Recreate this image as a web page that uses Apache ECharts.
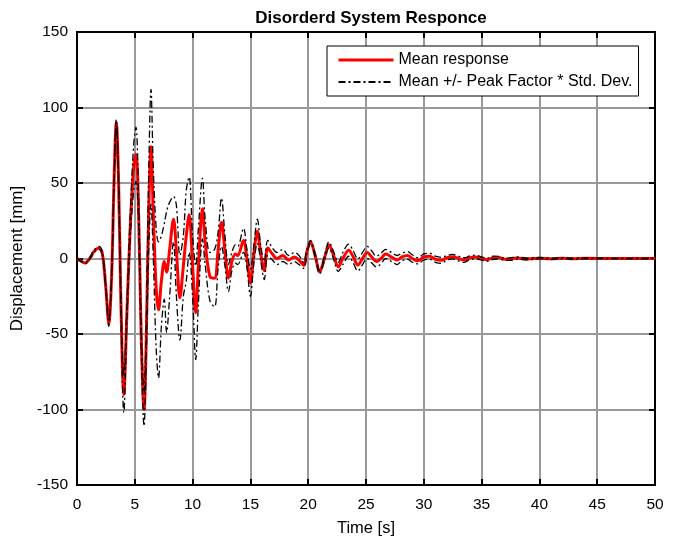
<!DOCTYPE html>
<html>
<head>
<meta charset="utf-8">
<script src="https://cdn.jsdelivr.net/npm/echarts@6/dist/echarts.min.js"></script>
<style>html,body{margin:0;padding:0;background:#fff}#main{width:678px;height:544px}</style>
</head>
<body>
<div id="main"></div>
<script>
// time samples [s]
var timeS = [0, 0.3, 0.7, 1.1, 1.5, 1.9, 2.2, 2.5, 2.75, 3.0,
    3.2, 3.4, 3.6, 3.8, 4.05, 4.3, 4.6, 4.9, 5.1, 5.3,
    5.55, 5.8, 6.0, 6.2, 6.4, 6.6, 6.85, 7.05, 7.3, 7.55,
    7.75, 8.0, 8.35, 8.6, 8.9, 9.2, 9.45, 9.7, 10.0, 10.27,
    10.5, 10.85, 11.1, 11.5, 11.9, 12.2, 12.5, 12.8, 13.1, 13.4,
    13.7, 13.9, 14.4, 14.7, 15.0, 15.3, 15.6, 15.9, 16.2, 16.5,
    16.9, 17.3, 17.8, 18.3, 18.8, 19.2, 19.6, 19.9, 20.2, 20.6,
    21.0, 21.4, 21.8, 22.2, 22.6, 23.0, 23.5, 23.9, 24.3, 24.7,
    25.1, 25.5, 25.9, 26.3, 26.7, 27.2, 27.7, 28.1, 28.6, 29.0,
    29.5, 30.0, 30.5, 31.0, 31.5, 32.0, 32.5, 33.0, 33.5, 34,
    34.5, 35, 35.5, 36, 36.5, 37, 37.5, 38, 39, 40,
    41, 42, 43, 44, 46, 48, 50];

// mean response [mm]
var meanMm = [0, -1.5, -3, 0, 5, 7, 3, -20, -43, -10,
    50, 90, 50, -30, -90, -40, 20, 60, 69, 40,
    -50, -100, -50, 30, 74, 30, -20, -34, -15, -2,
    -9, 5, 26, 5, -26, -5, 15, 29, -5, -36,
    -5, 33, 10, -12, -13, 5, 24, 5, -13, -2,
    3, 2, 12, 0, -16, 3, 18, 3, -8, 7,
    3, 0, 2, -1, 1, -1, -4.5, 5, 11, 2,
    -9, 0, 9, 2, -5.5, 0, 5.5, 1, -4.3, 0,
    4, 1, -2, 0, 3, 1, -1, 1, 2, 0,
    -1.5, 1, 1.5, -0.5, -1.2, 0.5, 1.2, 0, -1, 0.5,
    1, 0, -0.8, 0.5, 0.6, -0.5, -0.4, 0.3, -0.3, 0.2,
    -0.2, 0.2, -0.1, 0.1, 0, 0, 0];

// mean + peak factor * std [mm]
var upperMm = [0, -1.2, -2.5, 0.5, 5.8, 8, 4, -18.5, -41, -9,
    51.5, 92, 53, -24, -78, -34, 28, 75, 87, 50,
    -42, -89, -38, 55, 112, 60, 20, 11, 15, 23,
    31, 37, 41, 35, 2, 15, 45, 54, 15, -5,
    20, 53, 25, 4, 6, 17, 40, 15, -4, 4,
    9, 8, 20, 6, -7, 9, 26, 8, -2, 12,
    7, 4, 6, 2, 4, 2, -2.5, 6.5, 12, 3,
    -8, 1.5, 11, 4.5, -2.5, 4, 9.5, 5, -0.3, 4,
    8, 5, 1.5, 3.5, 6, 4, 2, 3.5, 4.5, 2.5,
    0.5, 3, 3.5, 1.5, 0.8, 2, 2.7, 1.5, 0.5, 1.7,
    2.2, 1, 0.2, 1.5, 1.4, 0.3, 0.4, 1, 0.3, 0.7,
    0.3, 0.6, 0.3, 0.4, 0.3, 0.2, 0.2];

// mean - peak factor * std [mm]
var lowerMm = [0, -1.8, -3.5, -0.5, 4.2, 6, 2, -21.5, -45, -11,
    48.5, 88, 47, -36, -102, -46, 12, 45, 51, 30,
    -58, -111, -62, 5, 36, 0, -60, -79, -45, -27,
    -49, -27, 11, -25, -54, -25, -15, 4, -25, -67,
    -30, 13, -5, -28, -32, -7, 8, -5, -22, -8,
    -3, -4, 4, -6, -25, -3, 10, -2, -14, 2,
    -1, -4, -2, -4, -2, -4, -6.5, 3.5, 10, 1,
    -10, -1.5, 7, -0.5, -8.5, -4, 1.5, -3, -8.3, -4,
    0, -3, -5.5, -3.5, 0, -2, -4, -1.5, -0.5, -2.5,
    -3.5, -1, -0.5, -2.5, -3.2, -1, -0.3, -1.5, -2.5, -0.7,
    -0.2, -1, -1.8, -0.5, -0.2, -1.3, -1.2, -0.4, -0.9, -0.3,
    -0.7, -0.2, -0.5, -0.2, -0.3, -0.2, -0.2];

function pairs(ys) {
    return timeS.map(function (t, i) { return [t, ys[i]]; });
}

var FONT = 'Liberation Sans';
var myChart = echarts.init(document.getElementById('main'));

var boundName = 'Mean +/- Peak Factor * Std. Dev.';
var boundStyle = { color: '#000', width: 1.3, type: [7, 3, 2, 3] };
var axisLineStyle = { show: true, onZero: false, lineStyle: { color: '#000', width: 2 } };
var tickStyle = { show: true, inside: true, length: 6, lineStyle: { color: '#000', width: 2 } };

myChart.setOption({
    animation: false,
    title: {
        text: 'Disorderd System Responce',
        left: 366,
        textAlign: 'center',
        top: 5,
        textStyle: { fontFamily: FONT, fontSize: 17, fontWeight: 'bold', color: '#000' }
    },
    legend: {
        orient: 'vertical',
        left: 327,
        top: 46,
        padding: [6, 6, 6, 10],
        itemGap: 6,
        itemWidth: 55,
        itemHeight: 14,
        backgroundColor: '#fff',
        borderColor: '#000',
        borderWidth: 1,
        itemStyle: { opacity: 0 },
        textStyle: { fontFamily: FONT, fontSize: 16, color: '#000' },
        data: [
            { name: 'Mean response', lineStyle: { width: 3 } },
            { name: boundName }
        ]
    },
    grid: {
        left: 77,
        right: 23,
        top: 32,
        bottom: 59,
        show: true,
        borderColor: '#000',
        borderWidth: 2
    },
    xAxis: [{
        type: 'value',
        min: 0,
        max: 50,
        interval: 5,
        name: 'Time [s]',
        nameLocation: 'middle',
        nameGap: 35,
        nameTextStyle: { fontFamily: FONT, fontSize: 16.5, color: '#000' },
        axisLine: axisLineStyle,
        axisTick: tickStyle,
        axisLabel: { fontFamily: FONT, fontSize: 15.5, color: '#000', margin: 12 },
        splitLine: { show: true, lineStyle: { color: '#999', width: 2 } }
    }, {
        type: 'value',
        position: 'top',
        min: 0,
        max: 50,
        interval: 5,
        axisLine: axisLineStyle,
        axisTick: tickStyle,
        axisLabel: { show: false },
        splitLine: { show: false }
    }],
    yAxis: [{
        type: 'value',
        min: -150,
        max: 150,
        interval: 50,
        name: 'Displacement [mm]',
        nameLocation: 'middle',
        nameGap: 47,
        nameTextStyle: { fontFamily: FONT, fontSize: 17, color: '#000' },
        axisLine: axisLineStyle,
        axisTick: tickStyle,
        axisLabel: { fontFamily: FONT, fontSize: 15.5, color: '#000', margin: 9 },
        splitLine: { show: true, lineStyle: { color: '#999', width: 2 } }
    }, {
        type: 'value',
        position: 'right',
        min: -150,
        max: 150,
        interval: 50,
        axisLine: axisLineStyle,
        axisTick: tickStyle,
        axisLabel: { show: false },
        splitLine: { show: false }
    }],
    series: [{
        name: 'Mean response',
        type: 'line',
        data: pairs(meanMm),
        smooth: 0.35,
        symbol: 'none',
        color: '#ff0000',
        lineStyle: { color: '#ff0000', width: 3 }
    }, {
        name: boundName,
        type: 'line',
        data: pairs(upperMm),
        smooth: 0.35,
        symbol: 'none',
        color: '#000',
        lineStyle: boundStyle
    }, {
        name: boundName,
        type: 'line',
        data: pairs(lowerMm),
        smooth: 0.35,
        symbol: 'none',
        color: '#000',
        lineStyle: boundStyle
    }]
});
</script>
</body>
</html>
